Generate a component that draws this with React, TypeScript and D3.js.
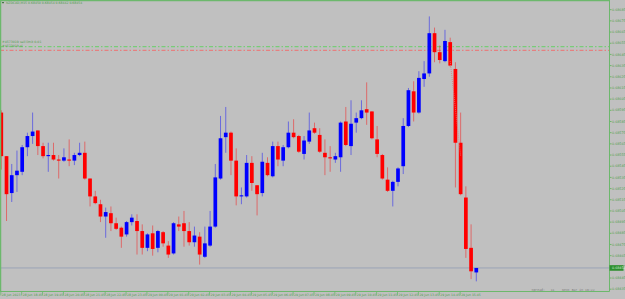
import React from "react";
import * as d3 from "d3";

const W = 625;
const H = 299;

const SYMBOL_TITLE = "NZDCAD,M15  0.68450 0.68454 0.68442 0.68454";

const OPEN = [
  0.68593, 0.68554, 0.68521, 0.68537, 0.68540, 0.68562, 0.68572, 0.68577, 0.68563, 0.68554,
  0.68555, 0.68551, 0.68550, 0.68551, 0.68550, 0.68555, 0.68557, 0.68534, 0.68518, 0.68511,
  0.68500, 0.68503, 0.68494, 0.68490, 0.68484, 0.68495, 0.68496, 0.68487, 0.68472, 0.68485,
  0.68472, 0.68486, 0.68474, 0.68467, 0.68493, 0.68494, 0.68487, 0.68477, 0.68482, 0.68464,
  0.68474, 0.68491, 0.68534, 0.68571, 0.68575, 0.68550, 0.68518, 0.68518, 0.68548, 0.68528,
  0.68521, 0.68548, 0.68536, 0.68563, 0.68550, 0.68562, 0.68575, 0.68572, 0.68556, 0.68567,
  0.68579, 0.68573, 0.68557, 0.68553, 0.68551, 0.68553, 0.68585, 0.68563, 0.68584, 0.68588,
  0.68596, 0.68594, 0.68569, 0.68555, 0.68533, 0.68523, 0.68531, 0.68545, 0.68581, 0.68612,
  0.68593, 0.68623, 0.68628, 0.68664, 0.68647, 0.68639, 0.68656, 0.68632, 0.68566, 0.68517,
  0.68472, 0.68450,
];
const HIGH = [
  0.68595, 0.68554, 0.68547, 0.68559, 0.68564, 0.68575, 0.68593, 0.68577, 0.68566, 0.68566,
  0.68566, 0.68555, 0.68561, 0.68569, 0.68557, 0.68566, 0.68567, 0.68534, 0.68523, 0.68515,
  0.68508, 0.68509, 0.68499, 0.68491, 0.68496, 0.68502, 0.68502, 0.68493, 0.68485, 0.68492,
  0.68488, 0.68487, 0.68478, 0.68495, 0.68500, 0.68505, 0.68495, 0.68491, 0.68486, 0.68491,
  0.68505, 0.68547, 0.68590, 0.68598, 0.68576, 0.68561, 0.68526, 0.68555, 0.68554, 0.68528,
  0.68557, 0.68553, 0.68567, 0.68567, 0.68564, 0.68585, 0.68587, 0.68573, 0.68572, 0.68593,
  0.68584, 0.68579, 0.68569, 0.68563, 0.68557, 0.68585, 0.68598, 0.68604, 0.68593, 0.68604,
  0.68620, 0.68594, 0.68581, 0.68556, 0.68544, 0.68532, 0.68544, 0.68588, 0.68615, 0.68621,
  0.68630, 0.68639, 0.68679, 0.68669, 0.68653, 0.68667, 0.68660, 0.68638, 0.68593, 0.68527,
  0.68493, 0.68454,
];
const LOW = [
  0.68542, 0.68496, 0.68513, 0.68522, 0.68537, 0.68554, 0.68565, 0.68555, 0.68552, 0.68540,
  0.68550, 0.68534, 0.68549, 0.68545, 0.68546, 0.68554, 0.68533, 0.68509, 0.68511, 0.68495,
  0.68481, 0.68487, 0.68488, 0.68472, 0.68482, 0.68492, 0.68466, 0.68466, 0.68469, 0.68465,
  0.68468, 0.68473, 0.68463, 0.68466, 0.68487, 0.68473, 0.68474, 0.68473, 0.68457, 0.68463,
  0.68473, 0.68490, 0.68533, 0.68557, 0.68537, 0.68510, 0.68511, 0.68517, 0.68523, 0.68501,
  0.68518, 0.68536, 0.68535, 0.68545, 0.68545, 0.68561, 0.68570, 0.68557, 0.68551, 0.68565,
  0.68574, 0.68557, 0.68537, 0.68540, 0.68548, 0.68540, 0.68563, 0.68555, 0.68575, 0.68587,
  0.68582, 0.68569, 0.68553, 0.68533, 0.68522, 0.68509, 0.68527, 0.68538, 0.68580, 0.68585,
  0.68592, 0.68616, 0.68625, 0.68638, 0.68637, 0.68638, 0.68634, 0.68526, 0.68519, 0.68463,
  0.68444, 0.68442,
];
const CLOSE = [
  0.68554, 0.68520, 0.68537, 0.68541, 0.68562, 0.68572, 0.68576, 0.68563, 0.68554, 0.68555,
  0.68551, 0.68550, 0.68553, 0.68550, 0.68555, 0.68557, 0.68534, 0.68518, 0.68512, 0.68500,
  0.68504, 0.68494, 0.68489, 0.68482, 0.68495, 0.68499, 0.68487, 0.68472, 0.68484, 0.68471,
  0.68487, 0.68476, 0.68466, 0.68494, 0.68491, 0.68487, 0.68477, 0.68483, 0.68466, 0.68476,
  0.68491, 0.68535, 0.68570, 0.68575, 0.68550, 0.68518, 0.68519, 0.68548, 0.68530, 0.68520,
  0.68549, 0.68537, 0.68563, 0.68551, 0.68562, 0.68575, 0.68571, 0.68558, 0.68568, 0.68577,
  0.68575, 0.68558, 0.68553, 0.68552, 0.68554, 0.68584, 0.68564, 0.68583, 0.68588, 0.68595,
  0.68593, 0.68570, 0.68556, 0.68534, 0.68523, 0.68531, 0.68543, 0.68581, 0.68613, 0.68593,
  0.68624, 0.68628, 0.68664, 0.68647, 0.68640, 0.68657, 0.68635, 0.68566, 0.68520, 0.68471,
  0.68451, 0.68454,
];

const PRICE_TICKS = [
  0.68685, 0.68675, 0.68665, 0.68655, 0.68645, 0.68635, 0.68625, 0.68615, 0.68605, 0.68595,
  0.68585, 0.68575, 0.68565, 0.68555, 0.68545, 0.68535, 0.68525, 0.68515, 0.68505, 0.68495,
  0.68485, 0.68475, 0.68465, 0.68455, 0.68445, 0.68435,
];

const TIME_LABELS = [
  "28 Jun 2023", "28 Jun 18:45", "28 Jun 19:45", "28 Jun 20:45", "28 Jun 21:45", "28 Jun 22:45",
  "28 Jun 23:45", "29 Jun 00:45", "29 Jun 01:45", "29 Jun 02:45", "29 Jun 03:45", "29 Jun 04:45",
  "29 Jun 05:45", "29 Jun 06:45", "29 Jun 07:45", "29 Jun 08:45", "29 Jun 09:45", "29 Jun 10:45",
  "29 Jun 11:45", "29 Jun 12:45", "29 Jun 13:45", "29 Jun 14:45", "29 Jun 15:45",
];
const TIME_LABEL_STEP = 4;

const CURRENT_PRICE = 0.68454;

const ORDER_PRICES = [0.68652, 0.68649];
const ORDER_COLORS = ["#78cc78", "#e58080"];
const ORDER_TEXTS = ["#4573019 sell limit 0.01", "#4573019 sl"];

const TRADE_BARS = [86, 88];
const TRADE_PRICES = [0.68639, 0.68554];

const SPREAD_TEXT = "Spread:   11    Next Bar in 16:22";

const AXIS = "#6cb86c";
const TXT = "#4f9f4f";
const BULL = "#0000ff";
const BEAR = "#ff0000";

export default function App() {
  const plotRight = 609.5;
  const plotBottom = 291.5;
  const n = OPEN.length;
  const x = d3.scaleLinear().domain([0, n - 1]).range([1.3, 476.3]);
  const y = d3.scaleLinear().domain([PRICE_TICKS[0], PRICE_TICKS[PRICE_TICKS.length - 1]]).range([9.7, 289.2]);
  const bw = 3.7;
  const font = "'DejaVu Sans', sans-serif";

  const candles = d3.range(n).map((i) => {
    const o = OPEN[i], c = CLOSE[i], h = HIGH[i], l = LOW[i];
    const bull = c >= o;
    const col = bull ? BULL : BEAR;
    const top = y(Math.max(o, c));
    const bot = y(Math.min(o, c));
    const cx = x(i);
    return (
      <g key={i}>
        <line x1={cx} x2={cx} y1={y(h)} y2={y(l)} stroke={col} strokeOpacity={0.45} strokeWidth={1} />
        <rect x={cx - bw / 2} y={top} width={bw} height={Math.max(1, bot - top)} fill={col} />
      </g>
    );
  });

  const tradeLine = d3.line<number>()
    .x((_, k) => x(TRADE_BARS[k]))
    .y((p) => y(p));

  return (
    <svg
      width={W}
      height={H}
      style={{ position: "absolute", left: 0, top: 0, background: "#c0c0c0", display: "block" }}
    >
      <rect x={0} y={0} width={W} height={H} fill="#c0c0c0" />
      {ORDER_PRICES.map((p, k) => (
        <line key={"ol" + k} x1={0} x2={plotRight} y1={y(p) + (k === 1 ? 0.5 : 0)} y2={y(p) + (k === 1 ? 0.5 : 0)} stroke={ORDER_COLORS[k]}
          strokeWidth={1.2} strokeDasharray="4,2,1.5,2" />
      ))}
      {ORDER_TEXTS.map((t, k) => (
        <text key={"ot" + k} x={2} y={y(ORDER_PRICES[0]) - 3.2 + k * 3.6} fontSize={3.2} fontFamily={font} fill={TXT}>{t}</text>
      ))}
      <line x1={0} x2={plotRight} y1={y(CURRENT_PRICE)} y2={y(CURRENT_PRICE)} stroke="#9aa4b6" strokeWidth={1} />
      {candles}
      <path d={tradeLine(TRADE_PRICES) || ""} fill="none" stroke="#e07878" strokeWidth={0.8} strokeDasharray="1,1" />
      <line x1={0.5} x2={0.5} y1={0} y2={plotBottom} stroke={AXIS} strokeWidth={1.5} />
      <line x1={0} x2={plotRight} y1={0.5} y2={0.5} stroke={AXIS} strokeWidth={1.5} />
      <line x1={plotRight} x2={plotRight} y1={0} y2={plotBottom} stroke={AXIS} strokeWidth={1} />
      <line x1={0} x2={plotRight} y1={plotBottom} y2={plotBottom} stroke={AXIS} strokeWidth={1} />
      {PRICE_TICKS.map((p, k) => (
        <g key={"pt" + k}>
          <line x1={plotRight} x2={plotRight + 2} y1={y(p)} y2={y(p)} stroke={AXIS} strokeWidth={1} />
          <text x={612} y={y(p)} dy="0.35em" fontSize={3.3} fontFamily={font} fill={TXT}>{p.toFixed(5)}</text>
        </g>
      ))}
      <rect x={plotRight} y={y(CURRENT_PRICE) - 2.8} width={14} height={5.6} fill="#2f8f2f" />
      <text x={612} y={y(CURRENT_PRICE)} dy="0.35em" fontSize={3.3} fontFamily={font} fill="#d8f0d8">{CURRENT_PRICE.toFixed(5)}</text>
      {TIME_LABELS.map((t, k) => {
        const bx = x(k * TIME_LABEL_STEP);
        return (
          <g key={"tl" + k}>
            <line x1={bx - 0.5} x2={bx - 0.5} y1={plotBottom} y2={plotBottom + 4} stroke={AXIS} strokeWidth={0.8} />
            <text x={bx + 0.5} y={295} dy="0.35em" fontSize={3.1} fontFamily={font} fill={TXT}>{t}</text>
          </g>
        );
      })}
      <path d="M1.8,2 L4.2,2 L3,3.8 Z" fill="#2a6a2a" />
      <text x={6} y={3} dy="0.35em" fontSize={3.1} fontFamily={font} fill={TXT}>{SYMBOL_TITLE}</text>
      <text x={531.5} y={289.8} dy="0.35em" fontSize={3.2} fontFamily="'Liberation Mono', monospace"
        fill="#7a7a7a" xmlSpace="preserve">{SPREAD_TEXT}</text>
    </svg>
  );
}
